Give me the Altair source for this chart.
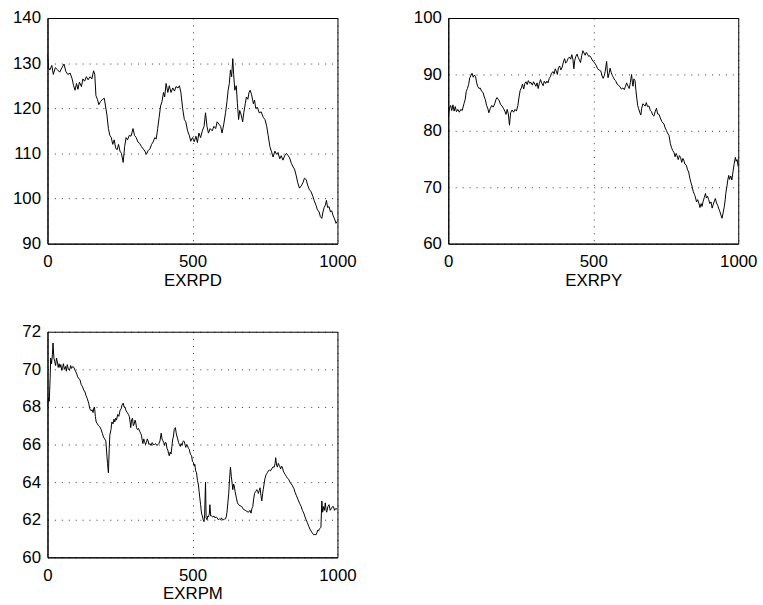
import altair as alt
import pandas as pd

# ---------------- EXRPD ----------------
exrpd_t = [0, 3, 8, 15, 20, 27, 35, 42, 50, 57, 63, 70, 78, 85, 90, 95, 100, 105, 110, 117,
           122, 128, 134, 140, 147, 153, 159, 163, 167, 172, 177, 183, 190, 196, 200, 205, 210, 215, 220, 225,
           230, 235, 240, 245, 250, 255, 261, 266, 271, 276, 282, 288, 295, 300, 306, 312, 318, 324, 330, 336,
           341, 347, 353, 359, 364, 370, 375, 380, 385, 390, 395, 400, 404, 409, 415, 420, 426, 432, 438, 443,
           450, 455, 460, 466, 472, 477, 483, 489, 494, 500, 506, 512, 517, 522, 528, 534, 540, 545, 550, 555,
           561, 568, 574, 580, 585, 591, 597, 602, 608, 614, 619, 623, 627, 631, 635, 639, 642, 646, 651, 655,
           659, 663, 668, 673, 677, 682, 686, 691, 695, 699, 704, 710, 714, 718, 724, 730, 737, 744, 750, 756,
           761, 767, 772, 778, 784, 790, 795, 801, 806, 812, 818, 824, 830, 835, 841, 847, 852, 858, 863, 869,
           875, 881, 886, 892, 897, 903, 909, 915, 920, 926, 931, 937, 941, 946, 950, 954, 958, 962, 966, 971,
           976, 980, 985, 990, 995, 1000]
exrpd_v = [132, 129, 128.5, 129.5, 127.5, 129, 128.5, 128, 129, 129.8, 128.2, 127.5, 127.8, 126.5, 125, 124, 125.5, 124.2, 125.8, 124.8,
           126.5, 126, 127, 126.3, 127, 126.5, 128.3, 127.5, 122.8, 122, 120.8, 121.5, 122, 122.2, 120.5, 118.5, 115.5, 114, 113.5, 112,
           113, 111.2, 110.8, 112, 110.5, 110, 108, 111.5, 113.5, 113, 114, 113.8, 115.5, 114, 113.5, 112.5, 112.2, 111.5, 111, 110.5,
           109.8, 110.6, 111, 112, 112.5, 113.5, 113.2, 115.5, 118, 120.5, 121.5, 123.5, 122.5, 125.5, 123.5, 125, 123.5, 124.5, 123.8, 124.8,
           124.5, 125, 123.5, 120, 117.5, 117, 115, 114, 112.7, 113.5, 112.6, 113.8, 112.4, 114.5, 113.5, 115, 116, 119, 116, 114.5,
           115.5, 115, 116, 115.5, 117, 116.5, 116, 114.5, 116.5, 119, 121.5, 124, 125.5, 128.5, 127, 131, 127.5, 124, 125, 121,
           117.5, 119.5, 118.5, 117, 119, 121, 122.5, 122, 123.5, 124, 123, 121, 121.8, 120, 120.2, 119, 119.2, 118, 117.5, 116,
           114, 111.5, 110.5, 109.2, 110.5, 109.8, 110.2, 108.8, 109.5, 108.5, 109.5, 110, 109.5, 109, 107.8, 107, 106.5, 105, 103.5, 102.3,
           102.8, 103.5, 104.5, 104.2, 103, 102, 101.5, 100.5, 99.5, 98.5, 97.5, 97, 96, 95.6, 97, 98, 98.5, 99.6, 98, 98.2,
           97, 97.3, 96.2, 95.5, 94.5, 95]

# ---------------- EXRPY ----------------
exrpy_t = [0, 4, 8, 12, 16, 20, 24, 28, 33, 38, 43, 48, 54, 58, 62, 66, 70, 74, 78, 82,
           86, 90, 94, 98, 101, 106, 110, 115, 120, 124, 128, 132, 136, 140, 145, 150, 155, 160, 164, 168,
           172, 176, 180, 185, 190, 195, 199, 203, 207, 211, 215, 220, 225, 230, 235, 240, 244, 248, 252, 256,
           260, 264, 268, 272, 276, 281, 285, 290, 294, 298, 302, 306, 310, 314, 318, 322, 327, 331, 336, 340,
           344, 348, 352, 356, 361, 365, 369, 373, 376, 380, 384, 388, 393, 397, 401, 405, 409, 413, 418, 422,
           426, 430, 433, 436, 440, 444, 448, 452, 456, 460, 464, 468, 472, 476, 480, 484, 488, 492, 496, 500,
           505, 510, 515, 520, 526, 530, 534, 538, 541, 546, 549, 551, 555, 558, 562, 566, 570, 574, 578, 582,
           587, 592, 597, 602, 607, 611, 615, 620, 624, 628, 632, 635, 637, 640, 644, 647, 650, 653, 656, 660,
           664, 667, 671, 675, 679, 683, 687, 692, 697, 701, 705, 709, 714, 718, 722, 727, 731, 736, 740, 744,
           748, 752, 756, 761, 766, 770, 774, 778, 782, 786, 789, 793, 797, 801, 805, 809, 812, 816, 821, 825,
           829, 833, 837, 841, 845, 849, 852, 856, 860, 864, 868, 872, 875, 879, 883, 887, 890, 894, 898, 902,
           906, 910, 914, 918, 921, 925, 929, 932, 936, 940, 944, 948, 952, 955, 957, 961, 964, 967, 970, 974,
           978, 982, 986, 990, 993, 996, 1000]
exrpy_v = [82.5, 84, 84.5, 83.6, 84.6, 83.5, 84.3, 83.4, 83.8, 83.3, 83.8, 83.6, 84.8, 85.5, 87, 87.5, 88.2, 89.4, 89.8, 90.2,
           89.5, 89.9, 89.6, 88.5, 87.9, 87.5, 87.6, 87, 86.8, 86, 85.5, 84.5, 84, 83.2, 84, 84.5, 84.2, 84.8, 85.5, 85.9,
           85.6, 85.3, 84.7, 84.4, 84, 83.5, 82.9, 83.8, 83, 81, 83.2, 83.7, 83.3, 83.8, 83.5, 84.5, 86, 87.2, 87.6, 88.3,
           87.4, 88.4, 88.7, 88.2, 88.9, 88.4, 88.6, 88.1, 88.7, 88.3, 87.9, 88.5, 87.5, 88.4, 89.1, 88.5, 88, 88.8, 88.4, 88.8,
           88.5, 89.3, 89.6, 90.2, 90.5, 90.1, 91, 90.5, 90, 91.2, 91.5, 90.8, 91.3, 92.2, 92.8, 92, 92.3, 92.8, 93.1, 92.7,
           93.5, 92.6, 91, 92.5, 93.2, 93.6, 93, 92.6, 92.1, 93.3, 94.2, 93.8, 93.4, 93.9, 93.6, 93.2, 93.3, 93, 92.6, 92.3,
           92, 91.6, 91, 90.8, 90.6, 89.8, 89.3, 89.8, 90.5, 92.3, 90.2, 89.4, 90.3, 91.1, 90.3, 89.8, 89.4, 89, 88.8, 88.3,
           88.1, 87.8, 87.4, 87.6, 87.3, 87.9, 88.5, 87.9, 87.5, 88.6, 90, 88.5, 87.9, 89.2, 88.9, 87.2, 85.8, 84.5, 84, 83.3,
           82.8, 84, 84.8, 84.6, 84.4, 85, 84.3, 84.4, 83.6, 83.4, 82.8, 82.6, 83.5, 84, 83, 82.9, 82.3, 81.7, 81.4, 81.2,
           80.5, 80.1, 79.6, 79.2, 77.7, 77, 76.5, 76.2, 75.4, 76, 75.6, 74.9, 75.6, 75.3, 74.4, 75.1, 74.8, 74.1, 73.9, 73.1,
           72.7, 71.6, 70.8, 70.1, 69.2, 68.7, 68.3, 67.4, 67.8, 67.2, 66.4, 67.1, 66.6, 67.5, 68.2, 68.9, 68.1, 68.4, 67.8, 67.1,
           67.4, 66.3, 67, 67.6, 68, 67.2, 66.8, 66.3, 65.8, 65.1, 64.5, 65.5, 66.6, 67.8, 68.9, 70.2, 71.3, 72.1, 71.4, 72,
           71.3, 72.8, 74.2, 75.3, 74.6, 74.9, 73.6]

# ---------------- EXRPM ----------------
exrpm_t = [0, 3, 6, 9, 11, 14, 17, 19, 22, 25, 28, 31, 34, 37, 40, 43, 46, 49, 52, 55,
           58, 62, 65, 68, 72, 76, 80, 83, 87, 91, 95, 100, 104, 108, 112, 116, 120, 125, 129, 133,
           137, 142, 146, 150, 154, 157, 160, 162, 165, 168, 172, 176, 180, 185, 189, 193, 197, 201, 204, 207,
           210, 213, 215, 219, 222, 226, 229, 232, 235, 238, 242, 246, 250, 254, 257, 261, 264, 267, 271, 275,
           279, 282, 285, 287, 290, 293, 296, 299, 302, 304, 307, 310, 314, 318, 321, 324, 327, 329, 332, 335,
           338, 341, 344, 347, 350, 353, 357, 361, 365, 369, 373, 377, 381, 384, 388, 392, 395, 398, 401, 403,
           406, 409, 412, 415, 418, 420, 423, 426, 429, 432, 434, 437, 441, 444, 447, 449, 452, 455, 458, 461,
           464, 466, 469, 472, 475, 477, 480, 483, 486, 489, 491, 494, 497, 500, 503, 506, 508, 511, 514, 517,
           520, 523, 525, 528, 530, 532, 534, 537, 540, 542, 545, 547, 550, 553, 555, 558, 560, 563, 566, 570,
           574, 578, 582, 585, 589, 593, 597, 600, 604, 608, 611, 614, 617, 619, 622, 625, 628, 631, 634, 637,
           639, 642, 644, 647, 651, 655, 659, 664, 670, 676, 682, 687, 693, 698, 702, 705, 708, 711, 714, 718,
           722, 725, 727, 730, 733, 736, 739, 742, 744, 747, 750, 754, 758, 762, 765, 769, 773, 777, 782, 785,
           787, 790, 793, 796, 799, 802, 804, 807, 810, 813, 816, 820, 824, 828, 832, 836, 841, 845, 850, 854,
           858, 862, 866, 870, 875, 879, 884, 888, 892, 896, 901, 905, 909, 913, 918, 922, 926, 929, 932, 935,
           937, 940, 943, 946, 949, 952, 955, 958, 961, 963, 967, 971, 975, 979, 983, 986, 990, 994, 1000]
exrpm_v = [68, 68.5, 68.3, 69.5, 70.6, 70.3, 70.8, 71.4, 70.6, 70.4, 70.2, 70.6, 70.4, 70.1, 70.3, 70.1, 70.25, 69.95, 70.1, 70.3,
           70, 70.15, 69.9, 70.25, 70, 69.95, 70.2, 70.05, 70.15, 70.1, 69.95, 69.8, 69.6, 69.5, 69.45, 69.2, 69.1, 68.9, 68.8, 68.6,
           68.45, 68.2, 67.9, 67.8, 67.85, 67.7, 67.95, 68, 67.5, 67.2, 67.1, 67, 66.95, 66.8, 66.6, 66.4, 66.3, 66.2, 65.6, 65,
           64.5, 65.8, 66.5, 66.8, 67.2, 67.1, 67.35, 67.2, 67.4, 67.3, 67.6, 67.5, 67.8, 67.9, 68.1, 68.2, 68, 68, 67.8, 67.7,
           67.6, 67.5, 67.2, 66.9, 67.3, 67.4, 67, 67.1, 67.3, 67.2, 66.9, 66.8, 66.85, 66.7, 66.6, 66.5, 66.2, 66.05, 66.3, 66.15,
           66, 66.1, 66.3, 66.2, 66, 66.05, 65.95, 66.1, 66, 66, 66.05, 65.95, 66, 66.05, 66.2, 66.6, 66.3, 66.2, 66.1, 65.95,
           66.1, 66.1, 65.8, 65.7, 65.5, 65.4, 65.6, 65.5, 65.9, 66.3, 66.4, 66.8, 66.9, 66.6, 66.4, 66.3, 66.1, 66, 65.9, 66.05,
           65.95, 66.1, 66.2, 66.15, 65.95, 65.85, 66, 65.93, 65.8, 65.75, 65.6, 65.45, 65.4, 65.1, 65.05, 64.85, 64.95, 64.6, 64.5, 64.1,
           63.9, 63.5, 63.2, 62.8, 62.5, 62.3, 62.2, 62, 61.9, 62.3, 64, 62.1, 62, 62.2, 62.15, 62.3, 62.8, 62.2, 62.2, 62.15,
           62.2, 62.1, 62.15, 62.1, 62, 62.05, 62, 62.1, 62, 62, 62.05, 62.05, 62.2, 62.4, 62.9, 63.4, 64.2, 64.8, 64.3, 63.9,
           63.6, 63.9, 63.8, 63.5, 63.2, 62.9, 62.8, 62.75, 62.7, 62.55, 62.5, 62.45, 62.4, 62.5, 62.35, 62.6, 62.7, 63.1, 63.4, 63.5,
           63.6, 63.5, 63.4, 63.55, 63.7, 63.3, 63, 63.4, 63.6, 63.9, 64.2, 64.4, 64.5, 64.6, 64.65, 64.6, 64.7, 64.8, 64.8, 65,
           65.3, 64.9, 64.8, 65, 64.9, 64.8, 64.7, 64.85, 64.8, 64.6, 64.5, 64.4, 64.3, 64.2, 64.15, 64, 63.9, 63.8, 63.65, 63.45,
           63.3, 63.15, 63, 62.85, 62.7, 62.5, 62.35, 62.15, 62, 61.85, 61.65, 61.5, 61.4, 61.3, 61.2, 61.22, 61.2, 61.3, 61.45, 61.4,
           61.5, 61.55, 61.6, 63, 62.4, 62.7, 62.5, 62.9, 62.5, 62.4, 62.7, 62.8, 62.5, 62.6, 62.7, 62.7, 62.5, 62.6, 62.55]

x_ticks = [0, 500, 1000]
FONT = "Liberation Sans"


def panel(t, v, title, lo, hi, yticks):
    df = pd.DataFrame({"t": t, "v": v})
    return alt.Chart(df).mark_line(color="black", strokeWidth=1, clip=True).encode(
        x=alt.X("t:Q", scale=alt.Scale(domain=[0, 1000], nice=False),
                axis=alt.Axis(values=x_ticks, title=title, format="d")),
        y=alt.Y("v:Q", scale=alt.Scale(domain=[lo, hi], nice=False, zero=False),
                axis=alt.Axis(values=yticks, title=None, format="d")),
    ).properties(width=293, height=228)


p1 = panel(exrpd_t, exrpd_v, "EXRPD", 90, 140, [90, 100, 110, 120, 130, 140])
p2 = panel(exrpy_t, exrpy_v, "EXRPY", 60, 100, [60, 70, 80, 90, 100])
p3 = panel(exrpm_t, exrpm_v, "EXRPM", 60, 72, [60, 62, 64, 66, 68, 70, 72])

chart = alt.concat(p1, p2, p3, columns=2, spacing={"row": 33, "column": 56}).properties(
    padding={"left": 12, "top": 5, "right": 5, "bottom": 5},
    background="white",
).configure_view(
    stroke="black", strokeWidth=1
).configure_axis(
    grid=True, gridColor="black", gridDash=[1, 6], gridWidth=1, gridOpacity=0.8,
    domainColor="black", domainWidth=1, ticks=False, tickSize=0,
    labelFont=FONT, labelFontSize=17, labelColor="black",
    titleFont=FONT, titleFontSize=17, titleFontWeight="normal", titleColor="black",
).configure_axisY(
    labelPadding=7
).configure_axisX(
    labelPadding=10, titlePadding=3, labelFlush=False
)

chart.save("out.html", embed_options={"renderer": "svg", "actions": False})
